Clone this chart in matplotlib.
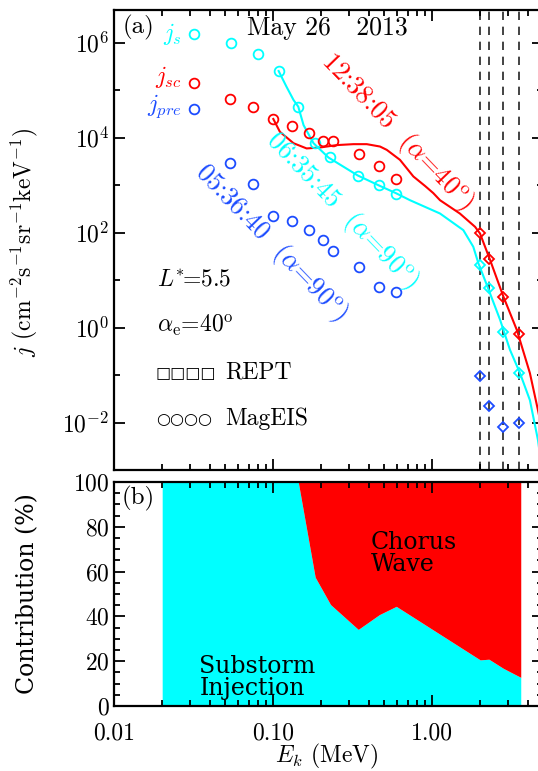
import numpy as np
import matplotlib
matplotlib.use('Agg')
import matplotlib.pyplot as plt
from matplotlib.ticker import FixedLocator, FixedFormatter, NullFormatter

plt.rcParams['font.family'] = ['cmr10', 'DejaVu Sans']
plt.rcParams['mathtext.fontset'] = 'cm'
plt.rcParams['axes.formatter.use_mathtext'] = True

# MagEIS circles: energy (MeV), log10 flux
e_s = [0.0315, 0.0538, 0.0798, 0.1083, 0.1435, 0.1834, 0.2261, 0.3421, 0.4644, 0.593]
j_s = [6.18, 5.98, 5.76, 5.40, 4.65, 3.88, 3.60, 3.20, 2.99, 2.81]

e_sc = [0.0317, 0.0537, 0.0742, 0.100, 0.1315, 0.167, 0.206, 0.238, 0.345, 0.460, 0.591]
j_sc = [5.15, 4.81, 4.64, 4.39, 4.24, 4.10, 3.92, 3.93, 3.65, 3.39, 3.13]

e_pre = [0.0317, 0.0537, 0.0742, 0.100, 0.1315, 0.167, 0.206, 0.238, 0.345, 0.460, 0.591]
j_pre = [4.59, 3.46, 3.02, 2.35, 2.24, 2.05, 1.84, 1.62, 1.28, 0.86, 0.75]

# REPT diamonds
e_rept = [2.0, 2.27, 2.8, 3.53]
j_rept_sc = [2.00, 1.44, 0.65, -0.14]
j_rept_s = [1.32, 0.84, -0.09, -0.96]
j_rept_pre = [-1.02, -1.65, -2.10, -2.00]

# model curves
e_curve_sc = [0.100, 0.110, 0.134, 0.162, 0.197, 0.250, 0.319, 0.387, 0.469, 0.517,
              0.626, 0.760, 0.90, 1.014, 1.118, 1.49, 1.857, 1.995, 2.31, 2.80,
              3.40, 4.11, 4.62, 5.0]
j_curve_sc = [4.39, 4.12, 3.88, 3.77, 3.79, 3.84, 3.86, 3.86, 3.81, 3.74,
              3.53, 3.18, 2.98, 2.83, 2.68, 2.40, 2.12, 1.98, 1.42, 0.65,
              -0.05, -0.96, -1.74, -2.3]
e_curve_s = [0.108, 0.121, 0.134, 0.1435, 0.155, 0.179, 0.222, 0.340, 0.462, 0.589,
             0.724, 1.118, 1.567, 1.81, 1.95, 2.20, 2.67, 3.08, 3.56, 4.11, 4.62, 4.9]
j_curve_s = [5.40, 5.07, 4.79, 4.65, 4.26, 3.88, 3.58, 3.20, 2.99, 2.83,
             2.68, 2.40, 2.05, 1.70, 1.35, 0.90, 0.16, -0.47, -0.96, -1.53, -2.37, -3.0]

# contribution panel
e_contrib = [0.02, 0.0315, 0.0538, 0.0798, 0.1083, 0.1435, 0.1834, 0.229, 0.3421,
             0.4644, 0.593, 2.0, 2.27, 2.8, 3.6]
substorm = [100, 100, 100, 100, 100, 100, 57.5, 45.3, 34.2, 40.8, 44.5, 20.6, 20.9, 16.8, 12.8]

cyan = '#00ffff'
red = '#ff0000'
blue = '#1c4cff'

fig = plt.figure(figsize=(5.38, 7.71), dpi=100)
ax = fig.add_axes([0.2125, 0.3904, 0.7976, 0.5966])
ax2 = fig.add_axes([0.2125, 0.0843, 0.7976, 0.2905])

circ = dict(marker='o', ls='none', ms=7, mfc='none', mew=1.3)
dia = dict(marker='D', ls='none', ms=5, mfc='none', mew=1.3)

for e in e_rept:
    ax.axvline(e, color='#222222', lw=1.2, ls=(0, (5, 4)), zorder=1)

ax.plot(e_curve_sc, 10 ** np.array(j_curve_sc), color=red, lw=1.5)
ax.plot(e_curve_s, 10 ** np.array(j_curve_s), color=cyan, lw=1.5)
ax.plot(e_s, 10 ** np.array(j_s), color=cyan, **circ)
ax.plot(e_sc, 10 ** np.array(j_sc), color=red, **circ)
ax.plot(e_pre, 10 ** np.array(j_pre), color=blue, **circ)
ax.plot(e_rept, 10 ** np.array(j_rept_sc), color=red, **dia)
ax.plot(e_rept, 10 ** np.array(j_rept_s), color=cyan, **dia)
ax.plot(e_rept, 10 ** np.array(j_rept_pre), color=blue, **dia)

ax.set_xscale('log')
ax.set_yscale('log')
ax.set_xlim(0.01, 5)
ax.set_ylim(1e-3, 10 ** 6.684)

ax.yaxis.set_major_locator(FixedLocator([1e-2, 1, 1e2, 1e4, 1e6]))
ax.yaxis.set_major_formatter(FixedFormatter([r'$10^{-2}$', r'$10^{0}$', r'$10^{2}$',
                                             r'$10^{4}$', r'$10^{6}$']))
ax.yaxis.set_minor_locator(FixedLocator([1e-3, 1e-1, 1e1, 1e3, 1e5]))
ax.yaxis.set_minor_formatter(NullFormatter())
ax.xaxis.set_major_formatter(NullFormatter())
ax.xaxis.set_minor_formatter(NullFormatter())

ax.text(0.02, 0.963, '(a)', transform=ax.transAxes, fontsize=18, va='center')
ax.text(0.497, 0.961, 'May 26   2013', transform=ax.transAxes, fontsize=18.5,
        ha='center', va='center')
ax.text(0.158, 0.947, r'$j_s$', transform=ax.transAxes, fontsize=17, color=cyan,
        ha='right', va='center')
ax.text(0.158, 0.855, r'$j_{sc}$', transform=ax.transAxes, fontsize=17, color=red,
        ha='right', va='center')
ax.text(0.158, 0.79, r'$j_{pre}$', transform=ax.transAxes, fontsize=17, color=blue,
        ha='right', va='center')

rot = dict(transform=ax.transAxes, fontsize=19, rotation=-46, rotation_mode='anchor',
           ha='center', va='center')
ax.text(0.660, 0.735, r'12:38:05  ($\alpha$=40$^{\rm o}$)', color=red, **rot)
ax.text(0.531, 0.563, r'06:35:45  ($\alpha$=90$^{\rm o}$)', color=cyan, **rot)
ax.text(0.366, 0.495, r'05:36:40  ($\alpha$=90$^{\rm o}$)', color=blue, **rot)

ax.text(0.099, 0.415, r'$L^{*}\!$=5.5', transform=ax.transAxes, fontsize=17, va='center')
ax.text(0.099, 0.315, r'$\alpha_{\rm e}$=40$^{\rm o}$', transform=ax.transAxes,
        fontsize=17, va='center')
ax.text(0.097, 0.211, '□□□□', transform=ax.transAxes, fontsize=11.5, va='center',
        family='DejaVu Sans', fontweight='bold')
ax.text(0.258, 0.213, 'REPT', transform=ax.transAxes, fontsize=17, va='center')
ax.text(0.097, 0.109, '○○○○', transform=ax.transAxes, fontsize=11.5, va='center',
        family='DejaVu Sans', fontweight='bold')
ax.text(0.258, 0.111, 'MagEIS', transform=ax.transAxes, fontsize=17, va='center')

# bottom panel
ax2.fill_between(e_contrib, 0, substorm, color=cyan, lw=0)
ax2.fill_between(e_contrib, substorm, 100, color=red, lw=0)
ax2.set_xscale('log')
ax2.set_xlim(0.01, 5)
ax2.set_ylim(0, 100)
ax2.yaxis.set_major_locator(FixedLocator([0, 20, 40, 60, 80, 100]))
ax2.yaxis.set_minor_locator(FixedLocator(np.arange(0, 101, 5)))
ax2.xaxis.set_major_locator(FixedLocator([0.01, 0.1, 1.0]))
ax2.xaxis.set_major_formatter(FixedFormatter(['0.01', '0.10', '1.00']))
ax2.xaxis.set_minor_formatter(NullFormatter())

ax2.text(0.0175, 0.926, '(b)', transform=ax2.transAxes, fontsize=18, va='center')
ax2.text(0.597, 0.78, 'Chorus\nWave', transform=ax2.transAxes, fontsize=17,
         family='DejaVu Serif', va='top', linespacing=0.95)
ax2.text(0.198, 0.228, 'Substorm\nInjection', transform=ax2.transAxes, fontsize=17,
         family='DejaVu Serif', va='top', linespacing=0.95)

for a in (ax, ax2):
    for s in a.spines.values():
        s.set_linewidth(1.6)
    a.tick_params(which='both', direction='in', top=True, right=True, width=1.3,
                  labelsize=17)
    a.tick_params(which='major', length=8)
    a.tick_params(which='minor', length=4)
    a.set_zorder(2)

ax2.tick_params(axis='x', pad=12)

fig.text(0.045, 0.686, r'$j$ (cm$^{-2}$s$^{-1}$sr$^{-1}$keV$^{-1}$)', rotation=90,
         ha='center', va='center', fontsize=17)
fig.text(0.052, 0.2296, 'Contribution (%)', rotation=90, ha='center', va='center',
         fontsize=17, family='DejaVu Serif')
fig.text(0.608, 0.019, r'$E_k$ (MeV)', ha='center', va='center', fontsize=17)

fig.savefig('out.png', dpi=100)
